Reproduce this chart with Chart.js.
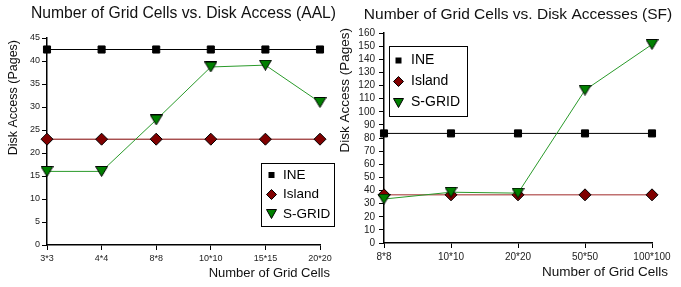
<!DOCTYPE html>
<html>
<head>
<meta charset="utf-8">
<script src="https://cdn.jsdelivr.net/npm/chart.js"></script>
<style>
  body { margin: 0; background: #fff; }
  .box { position: absolute; top: 0; height: 287px; }
  #left { left: 0; width: 338px; }
  #right { left: 338px; width: 343px; }
</style>
</head>
<body>
<div class="box" id="left"><canvas id="aalChart"></canvas></div>
<div class="box" id="right"><canvas id="sfChart"></canvas></div>
<script>
// Values
const aalCells = ['3*3', '4*4', '8*8', '10*10', '15*15', '20*20'];
const aalIne = [42.5, 42.5, 42.5, 42.5, 42.5, 42.5];
const aalIsland = [23, 23, 23, 23, 23, 23];
const aalSgrid = [16, 16, 27.2, 38.7, 39.1, 31];

const sfCells = ['8*8', '10*10', '20*20', '50*50', '100*100'];
const sfIne = [83.5, 83.5, 83.5, 83.5, 83.5];
const sfIsland = [36.7, 36.7, 36.7, 36.7, 36.7];
const sfSgrid = [33.5, 38.7, 38, 116.5, 151.3];

const FONT = '"Liberation Sans", Arial, sans-serif';
Chart.defaults.font.family = FONT;
Chart.defaults.color = '#222';
Chart.defaults.animation = false;

// downward triangle marker, centred on its bounding box
function downTriangle(w, h) {
    const c = document.createElement('canvas');
    c.width = w;
    c.height = h;
    const g = c.getContext('2d');
    g.beginPath();
    g.moveTo(0.5, 0.5);
    g.lineTo(w - 0.5, 0.5);
    g.lineTo(w / 2, h - 0.5);
    g.closePath();
    g.fillStyle = '#008000';
    g.fill();
    g.strokeStyle = '#000';
    g.lineWidth = 1;
    g.stroke();
    return c;
}

function drawMarker(ctx, kind, x, y) {
    ctx.strokeStyle = '#000';
    ctx.lineWidth = 1;
    if (kind === 'ine') {
        ctx.fillStyle = '#000';
        ctx.fillRect(x - 3, y - 3, 6, 6);
    } else if (kind === 'island') {
        ctx.beginPath();
        ctx.moveTo(x, y - 5);
        ctx.lineTo(x + 5, y);
        ctx.lineTo(x, y + 5);
        ctx.lineTo(x - 5, y);
        ctx.closePath();
        ctx.fillStyle = '#800000';
        ctx.fill();
        ctx.stroke();
    } else {
        const t = downTriangle(11, 10);
        ctx.drawImage(t, Math.round(x - 5.5), Math.round(y - 5));
    }
}

// boxed legend inside the plot
const boxLegend = {
    id: 'boxLegend',
    afterDraw(chart, args, o) {
        const ctx = chart.ctx;
        ctx.save();
        ctx.fillStyle = '#fff';
        ctx.fillRect(o.x, o.y, o.w, o.h);
        ctx.strokeStyle = '#000';
        ctx.lineWidth = 1;
        ctx.strokeRect(o.x + 0.5, o.y + 0.5, o.w, o.h);
        ctx.font = o.size + 'px ' + FONT;
        ctx.textBaseline = 'middle';
        chart.data.datasets.forEach((ds, i) => {
            const y = o.y + o.first + i * o.step;
            drawMarker(ctx, ds.marker, o.x + o.markerX, y);
            ctx.fillStyle = '#000';
            ctx.fillText(ds.label, o.x + o.textX, y);
        });
        ctx.restore();
    }
};

// chart title and axis titles placed like the original
const axisTitles = {
    id: 'axisTitles',
    afterDraw(chart, args, o) {
        const ctx = chart.ctx;
        const area = chart.chartArea;
        ctx.save();
        ctx.fillStyle = '#111';
        ctx.textBaseline = 'middle';
        ctx.textAlign = 'center';
        ctx.font = o.tSize + 'px ' + FONT;
        ctx.fillText(o.title, (area.left + area.right) / 2, o.tY);
        ctx.textAlign = 'right';
        ctx.font = o.xSize + 'px ' + FONT;
        ctx.fillText(o.xText, area.right + o.xOver, o.xY);
        ctx.translate(o.yX, o.yTop);
        ctx.rotate(-Math.PI / 2);
        ctx.font = o.ySize + 'px ' + FONT;
        ctx.fillText(o.yText, 0, 0);
        ctx.restore();
    }
};

function makeChart(id, cells, ine, island, sgrid, s) {
    const tri = downTriangle(13, 11);
    return new Chart(document.getElementById(id), {
        type: 'line',
        data: {
            labels: cells,
            datasets: [{
                label: 'INE',
                marker: 'ine',
                data: ine,
                borderColor: '#000',
                borderWidth: 1,
                pointStyle: 'rect',
                pointRadius: 5,
                pointBackgroundColor: '#000',
                pointBorderColor: '#000',
                order: 2,
                clip: false
            }, {
                label: 'Island',
                marker: 'island',
                data: island,
                borderColor: s.islandLine,
                borderWidth: s.islandWidth,
                pointStyle: 'rectRot',
                pointRadius: 6,
                pointBackgroundColor: '#800000',
                pointBorderColor: '#000',
                pointBorderWidth: 1,
                order: 1,
                clip: false
            }, {
                label: 'S-GRID',
                marker: 'sgrid',
                data: sgrid,
                borderColor: '#2a9a2a',
                borderWidth: 1,
                pointStyle: tri,
                pointRadius: 7,
                order: 0,
                clip: false
            }]
        },
        options: {
            responsive: true,
            maintainAspectRatio: false,
            layout: { padding: { left: 0, right: s.padRight, top: s.padTop, bottom: 0 } },
            scales: {
                x: {
                    offset: false,
                    afterFit: (scale) => { scale.height = s.xHeight; },
                    grid: { drawOnChartArea: false, tickLength: 5, color: '#000' },
                    border: { color: '#000', width: 1.5 },
                    ticks: { font: { size: s.tickSize }, padding: 3, maxRotation: 0, autoSkip: false }
                },
                y: {
                    min: 0,
                    max: s.yMax,
                    afterFit: (scale) => { scale.width = s.yWidth; },
                    grid: { drawOnChartArea: false, tickLength: 5, color: '#000' },
                    border: { color: '#000', width: 1.5 },
                    ticks: { stepSize: s.yStep, autoSkip: false, font: { size: s.tickSize }, padding: s.yPad }
                }
            },
            plugins: {
                legend: { display: false },
                tooltip: { enabled: false },
                boxLegend: s.legend,
                axisTitles: s.axis
            }
        },
        plugins: [boxLegend, axisTitles]
    });
}

makeChart('aalChart', aalCells, aalIne, aalIsland, aalSgrid, {
    padTop: 38, padRight: 18, xHeight: 42, yWidth: 47,
    yMax: 45, yStep: 5, tickSize: 9, yPad: 2,
    islandLine: '#800000', islandWidth: 1,
    legend: { x: 261, y: 163, w: 73, h: 63, first: 12, step: 19.5, markerX: 10.5, textX: 22, size: 13.5 },
    axis: { title: 'Number of Grid Cells vs. Disk Access (AAL)', tSize: 15.7, tY: 13.5,
            xText: 'Number of Grid Cells', xSize: 13, xOver: 10, xY: 273,
            yText: 'Disk Access (Pages)', ySize: 12.5, yX: 14, yTop: 40 }
});

makeChart('sfChart', sfCells, sfIne, sfIsland, sfSgrid, {
    padTop: 33, padRight: 29, xHeight: 44, yWidth: 46,
    yMax: 160, yStep: 10, tickSize: 10, yPad: 4,
    islandLine: '#c07070', islandWidth: 1.5,
    legend: { x: 51, y: 46, w: 78, h: 70, first: 14.5, step: 21, markerX: 9.5, textX: 22, size: 14 },
    axis: { title: 'Number of Grid Cells vs. Disk Accesses (SF)', tSize: 15.5, tY: 14.5,
            xText: 'Number of Grid Cells', xSize: 13.5, xOver: 16, xY: 272,
            yText: 'Disk Access (Pages)', ySize: 13.5, yX: 7, yTop: 28 }
});
</script>
</body>
</html>
